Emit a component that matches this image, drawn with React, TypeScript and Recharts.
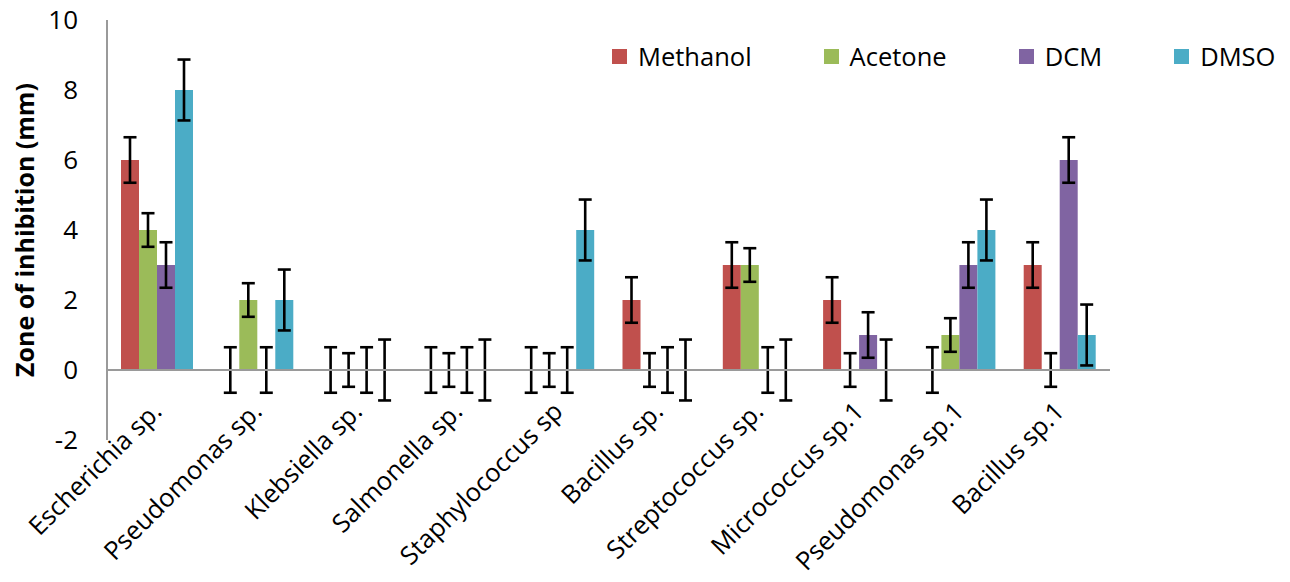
import React from 'react';
import {
  BarChart,
  Bar,
  XAxis,
  YAxis,
  ReferenceLine,
  Legend,
} from 'recharts';

// Bacterial isolates tested
const categories = [
  'Escherichia sp.',
  'Pseudomonas sp.',
  'Klebsiella sp.',
  'Salmonella sp.',
  'Staphylococcus sp',
  'Bacillus sp.',
  'Streptococcus sp.',
  'Micrococcus sp.1',
  'Pseudomonas sp.1',
  'Bacillus sp.1',
];

// Zone of inhibition (mm) per extract solvent
const methanol = [6, 0, 0, 0, 0, 2, 3, 2, 0, 3];
const acetone = [4, 2, 0, 0, 0, 0, 3, 0, 1, 0];
const dcm = [3, 0, 0, 0, 0, 0, 0, 1, 3, 6];
const dmso = [8, 2, 0, 0, 4, 0, 0, 0, 4, 1];

// Error margins (mm)
const methanolErr = [0.65, 0.65, 0.65, 0.65, 0.65, 0.65, 0.65, 0.65, 0.65, 0.65];
const acetoneErr = [0.48, 0.48, 0.48, 0.48, 0.48, 0.48, 0.48, 0.48, 0.48, 0.48];
const dcmErr = [0.65, 0.65, 0.65, 0.65, 0.65, 0.65, 0.65, 0.65, 0.65, 0.65];
const dmsoErr = [0.87, 0.87, 0.87, 0.87, 0.87, 0.87, 0.87, 0.87, 0.87, 0.87];

const yDomain: [number, number] = [-2, 10];
const yTicks = [-2, 0, 2, 4, 6, 8, 10];

const series = [
  { key: 'Methanol', errKey: 'MethanolErr', color: '#C0504D' },
  { key: 'Acetone', errKey: 'AcetoneErr', color: '#9BBB59' },
  { key: 'DCM', errKey: 'DCMErr', color: '#8064A2' },
  { key: 'DMSO', errKey: 'DMSOErr', color: '#4BACC6' },
];

const data = categories.map((name, i) => ({
  name,
  Methanol: methanol[i],
  Acetone: acetone[i],
  DCM: dcm[i],
  DMSO: dmso[i],
  MethanolErr: methanolErr[i],
  AcetoneErr: acetoneErr[i],
  DCMErr: dcmErr[i],
  DMSOErr: dmsoErr[i],
}));

const FONT = "'Open Sans', sans-serif";

// Bar shape with a symmetric error whisker; the whisker length comes from
// the value axis (plot height over the domain span), so zero-height bars
// still show their whiskers.
const makeBarWithError = (color: string, errKey: string) => (props: any) => {
  const { x, y, width, height, payload, background } = props;
  const pxPerUnit = background.height / (yDomain[1] - yDomain[0]);
  const err = payload[errKey] * pxPerUnit;
  const top = height >= 0 ? y : y + height;
  const xMid = x + width / 2;
  const cap = 6.5;
  return (
    <g>
      {Math.abs(height) > 0 && (
        <rect x={x} y={top} width={width} height={Math.abs(height)} fill={color} />
      )}
      <g stroke="#000" strokeWidth={2.6}>
        <line x1={xMid} x2={xMid} y1={top - err} y2={top + err} />
        <line x1={xMid - cap} x2={xMid + cap} y1={top - err} y2={top - err} />
        <line x1={xMid - cap} x2={xMid + cap} y1={top + err} y2={top + err} />
      </g>
    </g>
  );
};

const CategoryTick = (props: any) => {
  const { x, y, payload } = props;
  const tx = x + 6;
  const ty = y - 27;
  return (
    <text
      x={tx}
      y={ty}
      textAnchor="end"
      transform={`rotate(-45, ${tx}, ${ty})`}
      fontSize={25.5}
      fontFamily={FONT}
      fill="#000"
    >
      {payload.value}
    </text>
  );
};

const AxisTitle = (props: any) => {
  const { viewBox } = props;
  const cx = 25;
  const cy = viewBox.y + viewBox.height / 2;
  return (
    <text
      x={cx}
      y={cy}
      textAnchor="middle"
      dy="0.35em"
      transform={`rotate(-90, ${cx}, ${cy})`}
      fontSize={25}
      fontWeight="bold"
      fontFamily={FONT}
      fill="#000"
    >
      Zone of inhibition (mm)
    </text>
  );
};

const LegendContent = () => (
  <div style={{ display: 'flex', alignItems: 'center', fontFamily: FONT, fontSize: 25.5, lineHeight: '30px', whiteSpace: 'nowrap' }}>
    {series.map((s, i) => (
      <div key={s.key} style={{ display: 'flex', alignItems: 'center', marginRight: i < series.length - 1 ? 72 : 0 }}>
        <span style={{ display: 'inline-block', width: 15, height: 15, background: s.color, marginRight: 11 }} />
        <span style={{ color: '#000' }}>{s.key}</span>
      </div>
    ))}
  </div>
);

export default function App() {
  return (
    <div style={{ position: 'absolute', left: 0, top: 0, width: 1290, height: 582, background: '#fff' }}>
      <BarChart
        width={1290}
        height={582}
        data={data}
        margin={{ top: 20, right: 180, bottom: 0, left: 0 }}
        barCategoryGap={14}
        barGap={0}
      >
        <XAxis
          dataKey="name"
          height={142}
          axisLine={false}
          tickLine={false}
          tickSize={0}
          tickMargin={0}
          interval={0}
          tick={<CategoryTick />}
        />
        <YAxis
          width={107}
          domain={yDomain}
          ticks={yTicks}
          allowDataOverflow
          axisLine={{ stroke: '#9a9a9a', strokeWidth: 2 }}
          tickLine={false}
          tickSize={0}
          tickMargin={29}
          tick={{ fill: '#000', fontSize: 26, fontFamily: FONT }}
          label={<AxisTitle />}
        />
        <ReferenceLine y={0} stroke="#9a9a9a" strokeWidth={2} />
        <Legend
          layout="vertical"
          align="center"
          verticalAlign="middle"
          content={<LegendContent />}
          wrapperStyle={{ position: 'absolute', top: 41, left: 612, width: 'auto' }}
        />
        {series.map((s) => (
          <Bar
            key={s.key}
            dataKey={s.key}
            fill={s.color}
            isAnimationActive={false}
            shape={makeBarWithError(s.color, s.errKey)}
          />
        ))}
      </BarChart>
    </div>
  );
}
